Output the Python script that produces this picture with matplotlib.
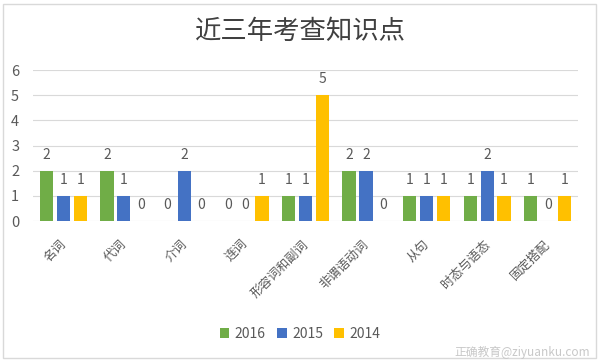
import matplotlib
matplotlib.use("Agg")
import matplotlib.pyplot as plt
import numpy as np
from matplotlib.patches import Rectangle
from matplotlib.transforms import ScaledTranslation

plt.rcParams['font.family'] = ['Noto Sans CJK SC', 'DejaVu Sans']

categories = ["名词", "代词", "介词", "连词", "形容词和副词", "非谓语动词", "从句", "时态与语态", "固定搭配"]
series_names = ["2016", "2015", "2014"]
v2016 = [2, 2, 0, 0, 1, 2, 1, 1, 1]
v2015 = [1, 1, 2, 0, 1, 2, 1, 2, 0]
v2014 = [1, 0, 0, 1, 5, 0, 1, 1, 1]
colors = ["#70AD47", "#4472C4", "#FFC000"]
title = "近三年考查知识点"

fig = plt.figure(figsize=(6.0, 3.62), dpi=100)
ax = fig.add_axes([33/600, 1-221/362, (578-33)/600, (221-70)/362])

x = np.arange(len(categories))
w = 0.22
step = 0.28
for i, (vals, col) in enumerate(zip([v2016, v2015, v2014], colors)):
    pos = x + (i-1)*step
    ax.bar(pos, vals, width=w, color=col, label=series_names[i], zorder=3)
    for p, v in zip(pos, vals):
        ax.text(p, v + 0.35, str(v), ha='center', va='bottom', fontsize=10, color='#595959')

ax.set_xlim(-0.5, len(categories)-0.5)
ax.set_ylim(0, 6)
ax.set_yticks(range(0, 7))
ax.tick_params(axis='y', length=0, labelsize=10.5, labelcolor='#595959', pad=10)
ax.grid(axis='y', color='#D9D9D9', linewidth=0.8, zorder=0)
for s in ax.spines.values():
    s.set_visible(False)
ax.set_xticks(x)
ax.set_xticklabels(categories, rotation=45, ha='right', rotation_mode='anchor',
                   fontsize=9, color='#595959')
ax.tick_params(axis='x', length=0, pad=12)
shift = ScaledTranslation(-4/100, 0, fig.dpi_scale_trans)
for lbl in ax.get_xticklabels():
    lbl.set_transform(lbl.get_transform() + shift)

fig.text(0.5, 1-31/362, title, ha='center', va='center', fontsize=19, color='#404040')

leg = fig.legend(loc='center', bbox_to_anchor=(0.5, 1-334/362), ncol=3, frameon=False,
                 fontsize=10, handlelength=0.7, handleheight=0.7, handletextpad=0.4,
                 columnspacing=0.8, labelcolor='#595959')

fig.patches.append(Rectangle((3/600, 4/362), 593/600, 354/362, transform=fig.transFigure,
                             fill=False, edgecolor='#D9D9D9', linewidth=1))

fig.text(590/600, 1-352/362, "正确教育@ziyuanku.com", ha='right', va='center',
         fontsize=8.5, color='#C8C8C8')

fig.savefig("out.png", dpi=100)
